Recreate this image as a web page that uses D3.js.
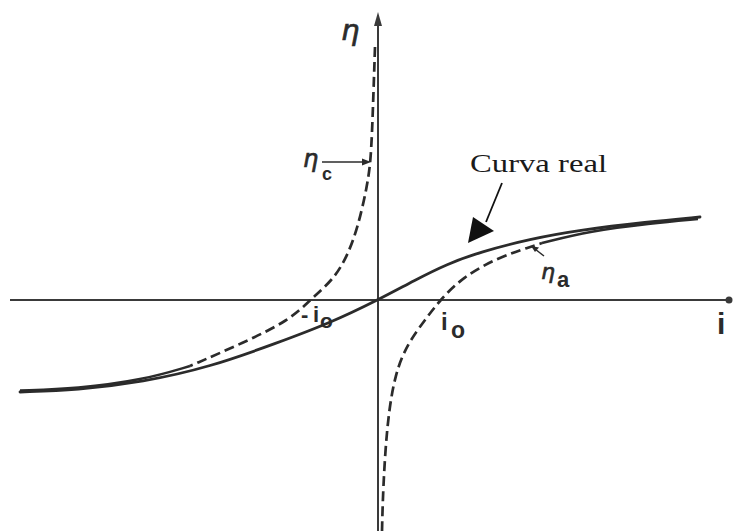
<!DOCTYPE html>
<html>
<head>
<meta charset="utf-8">
<script src="https://cdn.jsdelivr.net/npm/d3@7"></script>
<style>
  html, body { margin: 0; padding: 0; background: #fff; }
  svg { display: block; }
</style>
</head>
<body>
<svg id="chart" width="733" height="531"></svg>
<script>
// Curvas de polarização: corrente i vs sobretensão η (unidades arbitrárias)

// curva real (Butler-Volmer): [i, η]
const realCurve = [
  [-35.8, -9.2], [-30.1, -9.0], [-23.5, -8.2], [-16.8, -6.7], [-10.1, -4.3],
  [-4.8, -2.3], [0, 0], [3.7, 2.0], [6.9, 3.6], [10.2, 4.8], [15.2, 6.1],
  [20.2, 7.0], [26.9, 7.8], [32.2, 8.3]
];

// reta de Tafel catódica (tracejada) e o trecho em que se junta à curva real
const cathodicDashed = [
  [-0.3, 25.3], [-0.5, 19.3], [-0.7, 14.0], [-1.1, 11.3], [-2.0, 7.3],
  [-3.1, 4.3], [-4.5, 2.0], [-6.8, 0], [-8.8, -2.0], [-13.5, -4.3], [-18.8, -6.6]
];
const cathodicTail = [[-18.8, -6.6], [-23.5, -8.0], [-30.1, -8.85], [-35.8, -9.05]];

// reta de Tafel anódica (tracejada) e o trecho final
const anodicDashed = [
  [0.4, -23.1], [0.5, -19.0], [0.9, -12.3], [1.7, -7.3], [3.0, -4.3],
  [4.7, -2.0], [6.2, 0], [8.5, 2.3], [11.9, 4.2], [15.2, 5.3], [16.4, 5.7]
];
const anodicTail = [[16.4, 5.7], [21.2, 6.9], [27.2, 7.65], [32.0, 8.1]];

const iDomain = [-36.8, 35.2];
const etaDomain = [-23.1, 28.8];

const INK = '#2b2b2b';

const svg = d3.select('#chart');

const x = d3.scaleLinear().domain(iDomain).range([10, 730]);
const y = d3.scaleLinear().domain(etaDomain).range([531, 12]);

const line = d3.line()
  .x(d => x(d[0]))
  .y(d => y(d[1]))
  .curve(d3.curveBasis);

// --- eixos ---
const axes = svg.append('g').attr('stroke', '#3a3a3a').attr('stroke-width', 2);
axes.append('line')
  .attr('x1', x(iDomain[0])).attr('x2', x(iDomain[1]) - 2)
  .attr('y1', y(0)).attr('y2', y(0));
axes.append('line')
  .attr('x1', x(0)).attr('x2', x(0))
  .attr('y1', y(etaDomain[1]) + 6).attr('y2', y(etaDomain[0]));

// pontas de seta
svg.append('path')
  .attr('d', `M${x(0)},${y(etaDomain[1])} L${x(0) - 4},${y(etaDomain[1]) + 14} L${x(0) + 4},${y(etaDomain[1]) + 14} Z`)
  .attr('fill', '#3a3a3a');
svg.append('circle')
  .attr('cx', x(iDomain[1]) - 1).attr('cy', y(0)).attr('r', 3.5)
  .attr('fill', '#3a3a3a');

// --- curvas ---
[cathodicDashed, anodicDashed].forEach(pts => {
  svg.append('path').datum(pts)
    .attr('d', line).attr('fill', 'none')
    .attr('stroke', INK).attr('stroke-width', 2.7)
    .attr('stroke-dasharray', '10,5');
});

[cathodicTail, anodicTail].forEach(pts => {
  svg.append('path').datum(pts)
    .attr('d', line).attr('fill', 'none')
    .attr('stroke', INK).attr('stroke-width', 2.5);
});

svg.append('path').datum(realCurve)
  .attr('d', line).attr('fill', 'none')
  .attr('stroke', INK).attr('stroke-width', 2.8)
  .attr('stroke-linecap', 'round');

// --- textos ---
const greek = 'DejaVu Sans, sans-serif';
const sans = 'Liberation Sans, Arial, sans-serif';

function label(tx, ty, str, size, family, opts = {}) {
  const t = svg.append('text')
    .attr('x', tx).attr('y', ty)
    .attr('font-family', family)
    .attr('font-size', size)
    .attr('font-style', opts.italic ? 'italic' : 'normal')
    .attr('font-weight', opts.bold ? 'bold' : 'normal')
    .attr('fill', INK)
    .text(str);
  if (opts.heavy) t.attr('stroke', INK).attr('stroke-width', 0.7);
  return t;
}

label(341, 40, 'η', 29, greek, { italic: true, heavy: true });

// η_c com seta
label(303, 167, 'η', 24, greek, { italic: true, heavy: true });
label(322, 180, 'c', 18, sans, { bold: true });
svg.append('line')
  .attr('x1', 322).attr('x2', 364).attr('y1', 162).attr('y2', 162)
  .attr('stroke', INK).attr('stroke-width', 1.6);
svg.append('path')
  .attr('d', 'M371,162 L362,158.5 L362,165.5 Z').attr('fill', INK);

// η_a com seta
label(541, 279, 'η', 22, greek, { italic: true, heavy: true });
label(557, 287, 'a', 22, sans, { bold: true });
svg.append('line')
  .attr('x1', 544).attr('x2', 535).attr('y1', 256).attr('y2', 249)
  .attr('stroke', INK).attr('stroke-width', 1.5);
svg.append('path')
  .attr('d', 'M531,246 L539,247.5 L535,252 Z').attr('fill', INK);

// -io e io
label(301, 322, '-', 22, sans, { bold: true });
label(313, 322, 'i', 22, sans, { bold: true });
label(320, 328, 'o', 21, sans, { bold: true });

label(x(6.2) + 1, 330, 'i', 24, sans, { bold: true });
label(x(6.2) + 11, 338, 'o', 23, sans, { bold: true });

// rótulo do eixo i
label(717, 334, 'i', 30, sans, { bold: true });

// Curva real + seta
svg.append('text')
  .attr('x', 470).attr('y', 172)
  .attr('font-family', 'Liberation Serif, Times New Roman, serif')
  .attr('font-size', 25).attr('fill', '#1a1a1a')
  .attr('textLength', 137).attr('lengthAdjust', 'spacingAndGlyphs')
  .text('Curva real');
svg.append('line')
  .attr('x1', 502).attr('y1', 183).attr('x2', 486).attr('y2', 222)
  .attr('stroke', '#111').attr('stroke-width', 1.8);
svg.append('path')
  .attr('d', 'M468,243 L473,217 L494,231 Z').attr('fill', '#111');
</script>
</body>
</html>
